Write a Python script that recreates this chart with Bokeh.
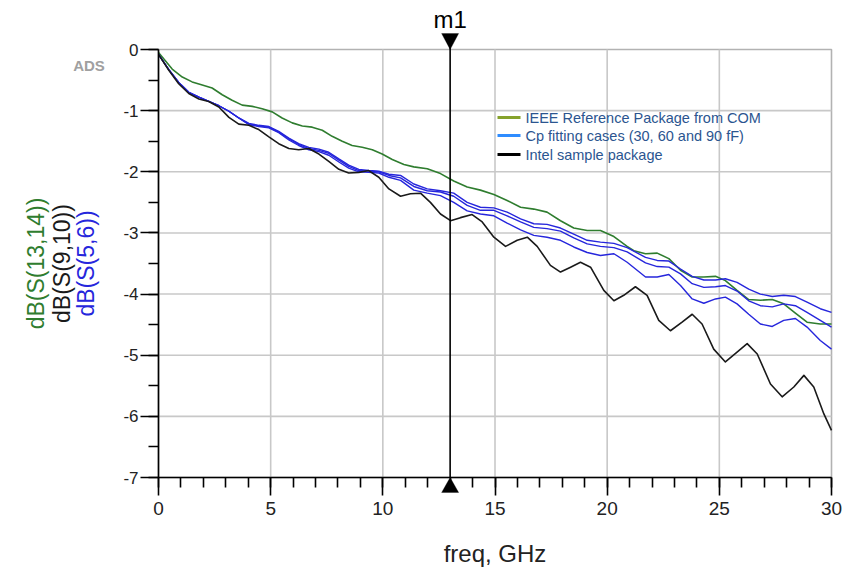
from bokeh.plotting import figure
from bokeh.models import (Range1d, SingleIntervalTicker, Label, PolyAnnotation, BoxAnnotation,
                          CustomJSTickFormatter)
from bokeh.embed import file_html
from bokeh.resources import INLINE
import math

# ---------------- data ----------------
freq_ieee = [0, 0.61, 1.06, 1.5, 1.95, 2.39, 2.84, 3.28, 3.73, 4.18, 4.62, 5.07, 5.51, 5.96,
             6.41, 6.85, 7.3, 7.74, 8.19, 8.63, 9.08, 9.53, 9.97, 10.42, 10.94, 11.38, 11.98,
             12.57, 13.16, 13.76, 14.35, 14.95, 15.54, 16.14, 16.73, 17.32, 17.92, 18.51,
             19.11, 19.7, 20.3, 20.89, 21.19, 21.71, 22.23, 22.75, 23.27, 23.79, 24.31, 24.83,
             25.27, 25.79, 26.31, 26.83, 27.36, 27.87, 28.39, 28.91, 29.5, 30.0]
db_ieee = [-0.05, -0.32, -0.45, -0.53, -0.58, -0.63, -0.74, -0.83, -0.91, -0.93, -0.97, -1.02,
           -1.12, -1.20, -1.25, -1.27, -1.32, -1.42, -1.50, -1.57, -1.60, -1.64, -1.71, -1.80,
           -1.88, -1.92, -1.95, -2.03, -2.15, -2.25, -2.30, -2.37, -2.47, -2.58, -2.61, -2.66,
           -2.80, -2.92, -2.96, -2.96, -3.06, -3.22, -3.29, -3.34, -3.33, -3.42, -3.61, -3.72,
           -3.72, -3.71, -3.78, -3.94, -4.09, -4.10, -4.09, -4.16, -4.31, -4.46, -4.49, -4.49]

freq_intel = [0, 0.46, 0.9, 1.35, 1.8, 2.24, 2.69, 3.14, 3.58, 4.03, 4.47, 4.92, 5.36, 5.81,
              6.25, 6.7, 7.15, 7.59, 8.04, 8.48, 8.93, 9.37, 9.82, 10.27, 10.79, 11.23, 11.68,
              12.12, 12.57, 13.02, 13.46, 13.98, 14.43, 14.95, 15.47, 15.99, 16.44, 16.88,
              17.47, 17.92, 18.37, 18.81, 19.26, 19.85, 20.3, 20.74, 21.26, 21.78, 22.3, 22.82,
              23.34, 23.79, 24.23, 24.75, 25.27, 25.79, 26.24, 26.69, 27.28, 27.8, 28.32, 28.77,
              29.21, 29.66, 30.0]
db_intel = [-0.08, -0.34, -0.56, -0.72, -0.81, -0.85, -0.94, -1.11, -1.22, -1.24, -1.31, -1.43,
            -1.54, -1.62, -1.64, -1.62, -1.71, -1.83, -1.96, -2.02, -2.01, -1.98, -2.09, -2.28,
            -2.40, -2.36, -2.35, -2.50, -2.69, -2.80, -2.75, -2.70, -2.82, -3.07, -3.22, -3.12,
            -3.07, -3.22, -3.53, -3.64, -3.56, -3.48, -3.56, -3.94, -4.11, -4.02, -3.88, -4.02,
            -4.43, -4.60, -4.46, -4.33, -4.49, -4.90, -5.11, -4.95, -4.81, -4.98, -5.47, -5.68,
            -5.52, -5.33, -5.52, -5.96, -6.23]

freq_cp = [0, 0.46, 0.9, 1.35, 1.8, 2.24, 2.69, 3.14, 3.58, 4.03, 4.47, 4.92, 5.36, 5.81, 6.25,
           6.7, 7.15, 7.59, 8.04, 8.48, 8.93, 9.37, 9.82, 10.27, 10.79, 11.38, 11.98, 12.57,
           13.16, 13.76, 14.35, 14.95, 15.54, 16.14, 16.73, 17.32, 17.92, 18.51, 19.11, 19.7,
           20.3, 20.89, 21.71, 22.23, 22.75, 23.27, 23.79, 24.31, 24.83, 25.27, 25.79, 26.31,
           26.83, 27.36, 27.87, 28.39, 28.91, 29.5, 30.0]
db_cp30 = [-0.08, -0.33, -0.54, -0.70, -0.78, -0.85, -0.92, -1.01, -1.12, -1.21, -1.24, -1.26,
           -1.34, -1.45, -1.54, -1.60, -1.63, -1.68, -1.79, -1.89, -1.96, -1.98, -1.99, -2.04,
           -2.06, -2.20, -2.28, -2.31, -2.35, -2.50, -2.58, -2.59, -2.66, -2.77, -2.85, -2.86,
           -2.92, -3.02, -3.12, -3.15, -3.17, -3.24, -3.40, -3.45, -3.46, -3.59, -3.71, -3.77,
           -3.77, -3.75, -3.81, -3.92, -4.00, -4.04, -4.02, -4.04, -4.13, -4.24, -4.30]
db_cp60 = [-0.08, -0.33, -0.54, -0.70, -0.78, -0.85, -0.92, -1.01, -1.12, -1.22, -1.25, -1.27,
           -1.35, -1.46, -1.55, -1.62, -1.65, -1.70, -1.81, -1.91, -1.98, -1.99, -2.00, -2.06,
           -2.10, -2.24, -2.31, -2.33, -2.40, -2.55, -2.63, -2.63, -2.72, -2.82, -2.91, -2.93,
           -2.97, -3.08, -3.18, -3.22, -3.24, -3.31, -3.49, -3.55, -3.56, -3.67, -3.83, -3.89,
           -3.88, -3.86, -3.95, -4.11, -4.19, -4.21, -4.16, -4.19, -4.30, -4.43, -4.54]
db_cp90 = [-0.08, -0.33, -0.54, -0.70, -0.78, -0.85, -0.92, -1.01, -1.12, -1.23, -1.26, -1.28,
           -1.36, -1.48, -1.57, -1.64, -1.67, -1.73, -1.84, -1.94, -2.00, -2.01, -2.02, -2.09,
           -2.14, -2.30, -2.35, -2.39, -2.50, -2.64, -2.69, -2.72, -2.84, -2.95, -3.04, -3.07,
           -3.12, -3.23, -3.32, -3.37, -3.34, -3.48, -3.72, -3.72, -3.68, -3.86, -4.08, -4.15,
           -4.08, -4.05, -4.16, -4.33, -4.49, -4.53, -4.43, -4.40, -4.54, -4.76, -4.90]

grid_x = [5, 10, 15, 20, 25]
grid_y = [-1, -2, -3, -4, -5, -6]
legend_labels = ["IEEE Reference Package from COM", "Cp fitting cases (30, 60 and 90 fF)",
                 "Intel sample package"]
y_labels = ["dB(S(13,14))", "dB(S(9,10))", "dB(S(5,6))"]
marker_name = "m1"
marker_freq = 13.0
x_label = "freq, GHz"

# ---------------- geometry / styles ----------------
W, H = 855, 576
PX0, PX30, PY0, PY7 = 158.0, 831.0, 49.0, 477.0       # plot-box edges on the page
SX = (PX30 - PX0) / 30.0                                # px per GHz
SY = (PY7 - PY0) / 7.0                                  # px per dB
FONT = "Liberation Sans"
C_GREEN = "#2f7d2f"
C_BLACK = "#1a1a1a"
C_BLUE = "#2626dc"
TXT = "#222222"

def dx(px):   # page x -> freq
    return (px - PX0) / SX

def dy(py):   # page y -> dB
    return -(py - PY0) / SY

p = figure(width=W, height=H, output_backend="svg", toolbar_location=None,
           x_range=Range1d(dx(0), dx(W)), y_range=Range1d(dy(H), dy(0)),
           min_border=0, min_border_left=0, min_border_right=0,
           min_border_top=0, min_border_bottom=0)
p.title.visible = False
p.outline_line_color = None
p.background_fill_color = "white"
p.border_fill_color = "white"
p.xgrid.visible = False
p.ygrid.visible = False

# axes drawn at the plot-box edges
p.xaxis.fixed_location = -7
p.yaxis.fixed_location = 0
p.xaxis.bounds = (0, 30)
p.yaxis.bounds = (-7, 0)
p.xaxis.ticker = SingleIntervalTicker(interval=5, num_minor_ticks=5)
p.yaxis.ticker = SingleIntervalTicker(interval=1, num_minor_ticks=2)
fmt = "return String(Math.round(tick));"
for ax in (p.xaxis[0], p.yaxis[0]):
    ax.formatter = CustomJSTickFormatter(code=fmt)
    ax.axis_line_color = "black"
    ax.axis_line_width = 1.6
    ax.major_tick_line_color = "black"
    ax.major_tick_line_width = 1.6
    ax.minor_tick_line_color = "black"
    ax.minor_tick_line_width = 1.6
    ax.major_tick_in = 0
    ax.major_tick_out = 18
    ax.minor_tick_in = 0
    ax.minor_tick_out = 10
    ax.major_label_text_font = FONT
    ax.major_label_text_color = TXT
p.xaxis.major_label_text_font_size = "19px"
p.xaxis.major_label_standoff = 6
p.yaxis.major_label_text_font_size = "17px"
p.yaxis.major_label_standoff = 2

# grid lines
p.segment(x0=grid_x, y0=[-7] * len(grid_x), x1=grid_x, y1=[0] * len(grid_x),
          line_color="#c8c8c8", line_width=1.6)
p.segment(x0=[0] * len(grid_y), y0=grid_y, x1=[30] * len(grid_y), y1=grid_y,
          line_color="#c8c8c8", line_width=1.6)
# plot box (top / right edges)
p.add_layout(BoxAnnotation(left=0, right=30, bottom=-7, top=0, fill_color=None,
                           line_color="black", line_width=1.6, level="underlay"))

# curves
p.line(freq_ieee, db_ieee, line_color=C_GREEN, line_width=1.6, line_join="round")
p.line(freq_cp, db_cp30, line_color=C_BLUE, line_width=1.4, line_join="round")
p.line(freq_cp, db_cp60, line_color=C_BLUE, line_width=1.4, line_join="round")
p.line(freq_cp, db_cp90, line_color=C_BLUE, line_width=1.4, line_join="round")
p.line(freq_intel, db_intel, line_color=C_BLACK, line_width=1.6, line_join="round")

# marker m1
p.segment(x0=[marker_freq], y0=[-7], x1=[marker_freq], y1=[dy(34)], line_color="black",
          line_width=1.6)
hw = 8.5 / SX
p.add_layout(PolyAnnotation(xs=[marker_freq - hw, marker_freq + hw, marker_freq],
                            ys=[dy(33), dy(33), 0.0], fill_color="black", fill_alpha=1,
                            line_color="black", line_width=1))
p.add_layout(PolyAnnotation(xs=[marker_freq - hw, marker_freq + hw, marker_freq],
                            ys=[dy(492), dy(492), -7.0], fill_color="black", fill_alpha=1,
                            line_color="black", line_width=1))
p.add_layout(Label(x=marker_freq, y=dy(19), text=marker_name, text_font=FONT,
                   text_font_size="24px", text_align="center", text_baseline="middle",
                   text_color="black"))

# x axis title
p.add_layout(Label(x=15, y=dy(553), text=x_label, text_font=FONT, text_font_size="24px",
                   text_align="center", text_baseline="middle", text_color=TXT))

# ADS watermark
p.add_layout(Label(x=dx(88.5), y=dy(65), text="ADS", text_font=FONT, text_font_size="15px",
                   text_font_style="bold", text_color="#a0a0a0", text_align="center",
                   text_baseline="middle"))

# multi-colour y label
for txt, px, col in zip(y_labels, [35.5, 61.0, 85.0], [C_GREEN, C_BLACK, C_BLUE]):
    p.add_layout(Label(x=dx(px), y=-3.5, text=txt, angle=math.pi / 2, text_font=FONT,
                       text_font_size="23px", text_color=col, text_align="center",
                       text_baseline="middle"))

# legend (own sample colours, no box)
leg_colors = ["#86a22c", "#2e8cff", "black"]
leg_rows = [dy(117), dy(135), dy(154)]
p.segment(x0=[dx(497)] * 3, y0=leg_rows, x1=[dx(520)] * 3, y1=leg_rows,
          line_color=leg_colors, line_width=3)
for txt, yy in zip(legend_labels, leg_rows):
    p.add_layout(Label(x=dx(525), y=yy, text=txt, text_font=FONT, text_font_size="14.5px",
                       text_color="#2b5590", text_align="left", text_baseline="middle"))

open("out.html", "w").write(file_html(p, INLINE))
